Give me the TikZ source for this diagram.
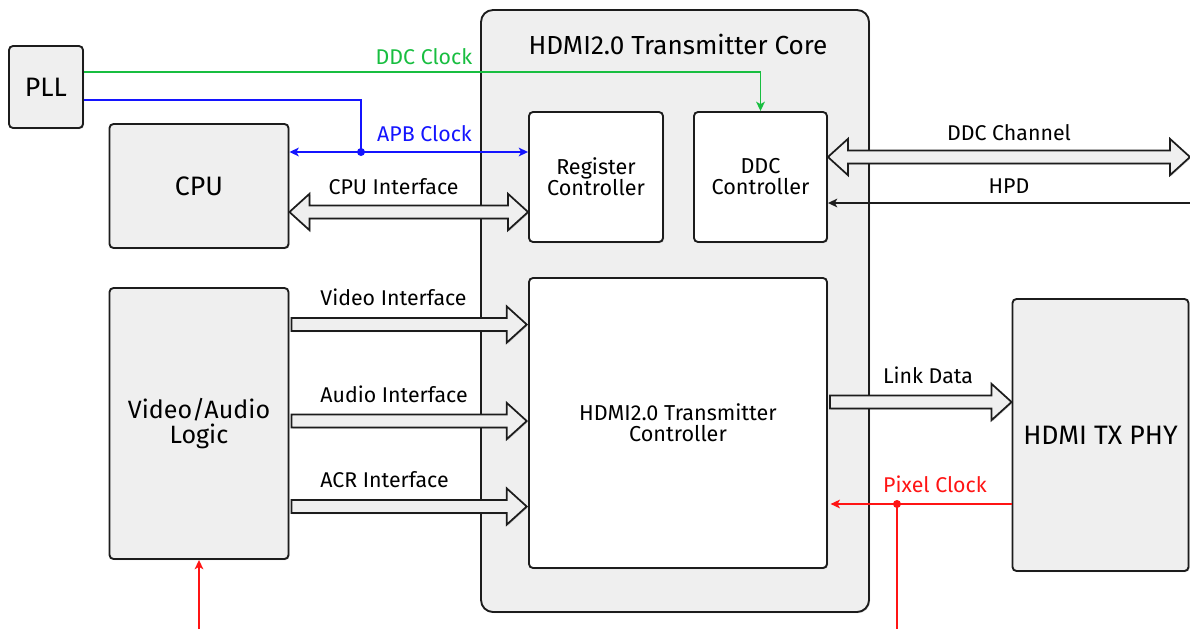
\documentclass[tikz,border=0pt]{standalone}
\usepackage{fontspec}
\setmainfont{Fira Sans}
\usetikzlibrary{arrows.meta,shadows,calc}

\definecolor{boxfill}{HTML}{EFEFEF}
\definecolor{edge}{HTML}{1C1C1C}
\definecolor{clkgreen}{RGB}{24,190,64}
\definecolor{clkblue}{RGB}{20,20,255}
\definecolor{clkred}{RGB}{255,20,20}

% fat (bus) arrow geometry
\def\fsw{4.9pt}   % half shaft width
\def\fhw{13.6pt}  % half head width
\def\fhl{15pt}    % head length

% single fat arrow between two points at the same height
\newcommand\busarrow[2]{%
  \draw[bus] let \p1=(#1), \p2=(#2) in
    (\x1,\y1+\fsw) -- (\x2-\fhl,\y1+\fsw) -- (\x2-\fhl,\y1+\fhw) -- (\x2,\y1)
    -- (\x2-\fhl,\y1-\fhw) -- (\x2-\fhl,\y1-\fsw) -- (\x1,\y1-\fsw) -- cycle;}
% double-headed fat arrow
\newcommand\busboth[2]{%
  \draw[bus] let \p1=(#1), \p2=(#2) in
    (\x1,\y1) -- (\x1+\fhl,\y1+\fhw) -- (\x1+\fhl,\y1+\fsw) -- (\x2-\fhl,\y1+\fsw)
    -- (\x2-\fhl,\y1+\fhw) -- (\x2,\y1) -- (\x2-\fhl,\y1-\fhw) -- (\x2-\fhl,\y1-\fsw)
    -- (\x1+\fhl,\y1-\fsw) -- (\x1+\fhl,\y1-\fhw) -- cycle;}

\tikzset{
  shade/.style={drop shadow={shadow xshift=0.8pt,shadow yshift=-0.8pt,opacity=0.18,fill=black}},
  blk/.style={draw=edge, line width=1.4pt, fill=boxfill, rounded corners=3pt,
              align=center, inner sep=0pt, shade},
  inner/.style={blk, fill=white, font=\fontsize{16.2}{15.8}\selectfont},
  bigtxt/.style={font=\fontsize{20}{19}\selectfont},
  lbl/.style={font=\fontsize{16}{18}\selectfont, anchor=base, inner sep=0pt},
  bus/.style={draw=edge, line width=1.3pt, fill=boxfill, line join=miter, shade},
  tip/.style={-{Stealth[length=7pt,width=6.5pt,inset=1.8pt]}},
  tips/.style={{Stealth[length=7pt,width=6.5pt,inset=1.8pt]}-{Stealth[length=7pt,width=6.5pt,inset=1.8pt]}},
  sig/.style={line width=1.3pt},
  junction/.style={circle, fill, inner sep=0pt, minimum size=6pt}
}

\begin{document}
\begin{tikzpicture}[x=0.75pt,y=-0.75pt]
\useasboundingbox (0,0) rectangle (1190,629);

% core container
\node[blk, rounded corners=9pt, minimum width=291pt, minimum height=451.5pt] (core) at (675,311) {};
\node[font=\fontsize{19.6}{21}\selectfont, anchor=base] (coretitle) at (678,54) {HDMI2.0 Transmitter Core};

% outer blocks
\node[blk, bigtxt, minimum width=55.5pt, minimum height=61.5pt] (pll) at (46,87) {PLL};
\node[blk, bigtxt, minimum width=134.25pt, minimum height=93pt] (cpu) at (199,186) {CPU};
\node[blk, font=\fontsize{18.8}{18.75}\selectfont, minimum width=134.25pt, minimum height=203.25pt] (val) at (199,423.5) {Video/Audio\\Logic};
\node[blk, font=\fontsize{20}{20}\selectfont, minimum width=132pt, minimum height=204pt] (phy) at (1100.5,435) {HDMI TX PHY};

% blocks inside the core
\node[inner, minimum width=100.5pt, minimum height=97.5pt] (reg) at (596,177) {Register\\Controller};
\node[inner, minimum width=99.75pt, minimum height=97.5pt] (ddc) at (760.5,177) {DDC\\Controller};
\node[inner, minimum width=223.5pt, minimum height=217.5pt] (txc) at (678,423) {HDMI2.0 Transmitter\\Controller};

% clocks from the PLL
\coordinate (ddcturn) at (ddc.north |- 0,72);
\draw[sig, clkgreen, tip] (pll.east |- 0,72) -- (ddcturn) -- (ddc.north);
\node[lbl, text=clkgreen] (ddcclk) at (424,64) {DDC Clock};

\coordinate (apbturn) at (361,100);
\node[junction, fill=clkblue] (apbdot) at (361,152) {};
\draw[sig, clkblue] (pll.east |- 0,100) -- (apbturn) -- (apbdot.center);
\draw[sig, clkblue, tips] (cpu.east |- 0,152) -- (reg.west |- 0,152);
\node[lbl, text=clkblue] (apbclk) at (424.5,141) {APB Clock};

% buses
\coordinate (cpuif) at (cpu.east |- 0,212);
\coordinate (regif) at (reg.west |- 0,212);
\busboth{cpuif}{regif}
\node[lbl] (cpulbl) at (393.5,194) {CPU Interface};

\coordinate (vid1) at ([xshift=1.5pt]val.east |- 0,324.5);
\coordinate (vid2) at ([xshift=-1pt]txc.west |- 0,324.5);
\busarrow{vid1}{vid2}
\node[lbl] (vidlbl) at (393.5,305) {Video Interface};

\coordinate (aud1) at ([xshift=1.5pt]val.east |- 0,421);
\coordinate (aud2) at ([xshift=-1pt]txc.west |- 0,421);
\busarrow{aud1}{aud2}
\node[lbl] (audlbl) at (394,402) {Audio Interface};

\coordinate (acr1) at ([xshift=1.5pt]val.east |- 0,506.5);
\coordinate (acr2) at ([xshift=-1pt]txc.west |- 0,506.5);
\busarrow{acr1}{acr2}
\node[lbl] (acrlbl) at (384.5,487) {ACR Interface};

\coordinate (ddcch1) at (ddc.east |- 0,157);
\coordinate (ddcch2) at (1190,157);
\busboth{ddcch1}{ddcch2}
\node[lbl] (ddcchlbl) at (1009,140) {DDC Channel};

\coordinate (hpdin) at (1190,203);
\draw[sig, edge, tip] (hpdin) -- (ddc.east |- 0,203);
\node[lbl] (hpdlbl) at (1009,193) {HPD};

\coordinate (link1) at ([xshift=1.5pt]txc.east |- 0,402);
\coordinate (link2) at (phy.west |- 0,402);
\busarrow{link1}{link2}
\node[lbl] (linklbl) at (928,383) {Link Data};

% pixel clock from the PHY
\node[junction, fill=clkred] (pixdot) at (897,504) {};
\draw[sig, clkred, tip] (phy.west |- 0,504) -- ([xshift=2pt]txc.east |- 0,504);
\coordinate (pixout) at (897,629);
\draw[sig, clkred] (pixdot.center) -- (pixout);
\node[lbl, text=clkred] (pixlbl) at (935,492) {Pixel Clock};

% clock into the video/audio logic
\coordinate (valclk) at (val.south |- 0,629);
\draw[sig, clkred, tip] (valclk) -- (val.south);
\end{tikzpicture}
\end{document}
